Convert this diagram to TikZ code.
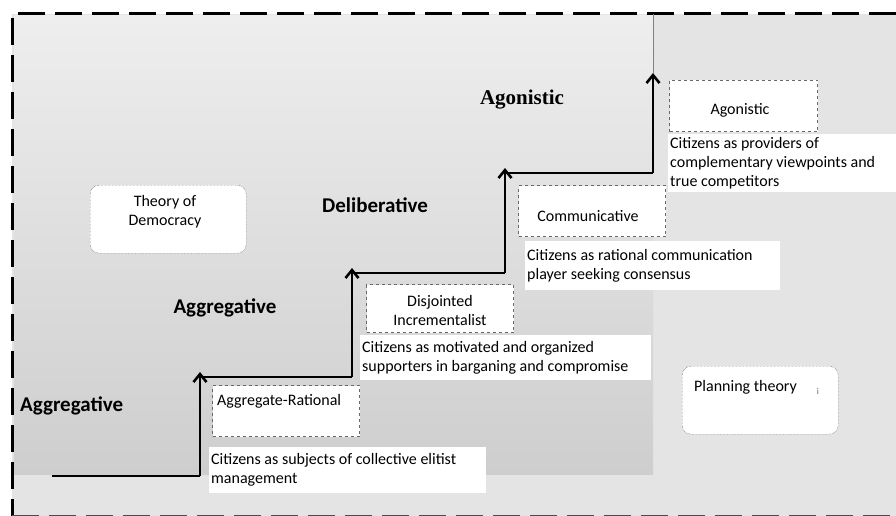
\documentclass[tikz,border=0pt]{standalone}
\usepackage{fontspec}
\setmainfont{Carlito}
\newfontfamily\serifbold{Liberation Serif}
\usetikzlibrary{arrows.meta, positioning}
\definecolor{bgtop}{RGB}{238,238,238}
\definecolor{bgbottom}{RGB}{206,206,206}
\definecolor{bglight}{RGB}{228,228,228}
\definecolor{dashgray}{RGB}{105,105,105}

\begin{document}
\begin{tikzpicture}[
  x=1pt, y=-1pt,
  stage/.style = {font=\fontsize{21}{24}\selectfont\bfseries, inner sep=0pt},
  theory/.style = {
    rectangle, rounded corners=9pt, draw=black!75, densely dotted,
    fill=white, minimum width=156pt, minimum height=68pt, anchor=north west
  },
  model/.style = {
    rectangle, draw=dashgray, dashed, line width=1pt,
    fill=white, minimum height=51pt, anchor=north west
  },
  note/.style = {
    rectangle, fill=white, anchor=north west, align=flush left,
    inner sep=2pt, font=\fontsize{16}{19}\selectfont
  },
  lbl/.style = {font=\fontsize{16}{19}\selectfont, inner sep=0pt, align=center},
  riser/.style = {-{Straight Barb[length=8pt, width=13pt]}, line width=2.6pt},
  tread/.style = {line width=2.6pt}
]
\useasboundingbox (0,0) rectangle (896,516);
% background
\fill[bglight] (12,14) rectangle (896,516);
\shade[top color=bgtop, bottom color=bgbottom] (14,16) rectangle (653,474);
\draw[line width=3pt, dash pattern=on 27pt off 10pt] (896,14) -- (12,14) -- (12,516);
\draw[black!70, line width=2.5pt, dash pattern=on 27pt off 10pt] (12,516) -- (896,516);

% stairs
\coordinate (p0) at (52,476);  \coordinate (p1) at (200,476);
\coordinate (t1) at (200,372); \coordinate (q1) at (200,377); \coordinate (p2) at (352,377);
\coordinate (t2) at (352,268); \coordinate (q2) at (352,273); \coordinate (p3) at (505,273);
\coordinate (t3) at (505,168); \coordinate (q3) at (505,173); \coordinate (p4) at (653,173);
\coordinate (t4) at (653,73);  \coordinate (top) at (653,14);
\draw[tread] (p0) -- (p1); \draw[riser] (p1) -- (t1);
\draw[tread] (q1) -- (p2); \draw[riser] (p2) -- (t2);
\draw[tread] (q2) -- (p3); \draw[riser] (p3) -- (t3);
\draw[tread] (q3) -- (p4); \draw[riser] (p4) -- (t4);
\draw[gray, line width=0.8pt] (t4) -- (top);

% stage labels
\node[stage, anchor=west] (agg1) at (20,406) {Aggregative};
\node[stage] (agg2) at (225,308) {Aggregative};
\node[stage] (delib) at (375,205) {Deliberative};
\node[stage, font=\serifbold\fontsize{21}{24}\selectfont\bfseries] (agon) at (522,100) {Agonistic};

% theory boxes
\node[theory] (tod) at (90,185) {};
\node[lbl] (todtxt) at (165,212) {Theory of\\Democracy};
\node[theory] (plan) at (682,366) {};
\node[lbl, anchor=west] (plantxt) at (694,387) {Planning theory};
\node[font=\fontsize{9}{10}\selectfont, text=black!60, inner sep=0pt] (cursor) at (818,391) {i};

% planning models
\node[model, minimum width=147pt] (ar) at (212,385) {};
\node[lbl, anchor=west] (artxt) at (217,401) {Aggregate-Rational};
\node[model, minimum width=147pt, minimum height=48pt] (di) at (366,284) {};
\node[lbl] (ditxt) at (440,311) {Disjointed\\Incrementalist};
\node[model, minimum width=147pt] (com) at (518,185) {};
\node[lbl] (comtxt) at (588,216) {Communicative};
\node[model, minimum width=148pt] (ago) at (669,80) {};
\node[lbl] (agotxt) at (740,110) {Agonistic};

% citizen roles
\node[note, text width=273pt, minimum height=46pt] (role1) at (209,447)
  {Citizens as subjects of collective elitist\\management};
\node[note, text width=287pt, minimum height=45pt] (role2) at (360,335)
  {Citizens as motivated and organized\\supporters in barganing and compromise};
\node[note, text width=251pt, minimum height=49pt] (role3) at (525,241)
  {Citizens as rational communication\\player seeking consensus};
\node[note, text width=224pt, minimum height=58pt] (role4) at (668,134)
  {Citizens as providers of\\complementary viewpoints and\\true competitors};
\end{tikzpicture}
\end{document}
